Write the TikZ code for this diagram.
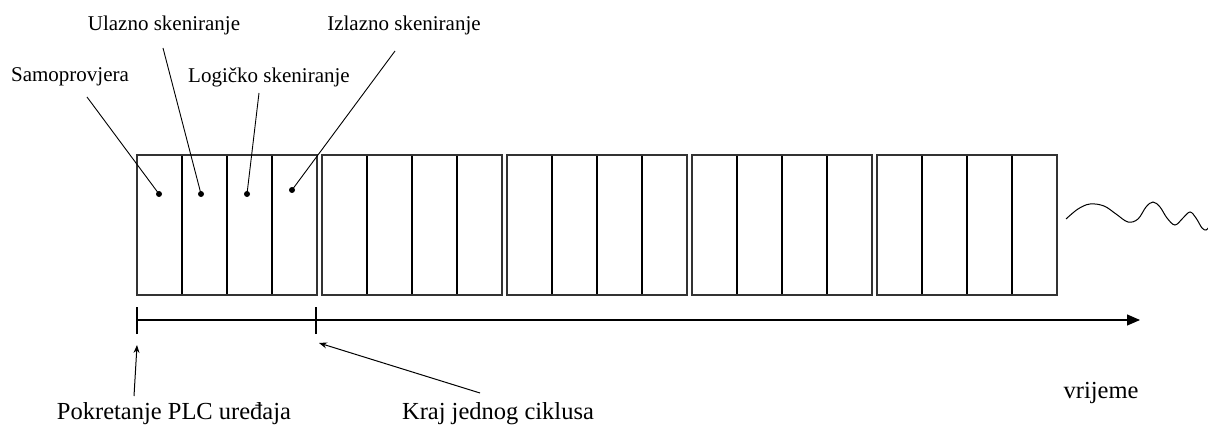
\documentclass[tikz,border=0pt]{standalone}
\usepackage{fontspec}
\setmainfont{Liberation Serif}
\usetikzlibrary{arrows.meta}
\begin{document}
\begin{tikzpicture}[x=1pt,y=-1pt,
 cell/.style={draw=none,minimum width=45pt,minimum height=140pt,inner sep=0,outer sep=0},
 blockframe/.style={draw=black!80,line width=1.3pt},
 divider/.style={black,line width=2.6pt},
 toplabel/.style={font=\fontsize{21}{24}\selectfont,inner sep=0},
 botlabel/.style={font=\fontsize{24.5}{28}\selectfont,inner sep=0},
 leader/.style={line width=0.9pt},
 dot/.style={circle,fill=black,inner sep=0,minimum size=6pt},
 pointer/.style={line width=1pt,-{Stealth[length=8pt,width=6pt]}},
 tick/.style={line width=1.2pt},
]
\useasboundingbox (0,0) rectangle (1208,433);
% cells
\foreach \b in {0,...,4}{
  \foreach \c in {0,...,3}{
    \pgfmathtruncatemacro{\n}{4*\b+\c+1}
    \node[cell] (c\n) at ({137+185*\b+45*\c+22.5},225) {};
  }
}
% dividers
\foreach \n in {1,2,3,5,6,7,9,10,11,13,14,15,17,18,19}{
  \draw[divider] (c\n.north east) -- (c\n.south east);
}
% frames
\foreach \f/\l in {1/4,5/8,9/12,13/16,17/20}{
  \draw[blockframe] (c\f.north west) rectangle (c\l.south east);
}
% wave
\draw[line width=1pt] plot[smooth,tension=0.6] coordinates {(1066,219) (1078,209) (1090,204) (1104,206) (1116,214) (1128,222) (1138,219) (1146,207) (1153,202) (1160,207) (1167,218) (1175,225) (1183,218) (1190,212) (1196,218) (1202,228) (1206,230) (1208,228)};
% dots
\node[dot] (d1) at (159,194) {};
\node[dot] (d2) at (201,194) {};
\node[dot] (d3) at (247,194) {};
\node[dot] (d4) at (292,190) {};
% top labels
\node[toplabel] (samo) at (70,77) {Samoprovjera};
\node[toplabel] (ulaz) at (164,25) {Ulazno skeniranje};
\node[toplabel] (logi) at (269,77) {Logičko skeniranje};
\node[toplabel] (izla) at (404,25) {Izlazno skeniranje};
\coordinate (s1) at (87,97);
\coordinate (s2) at (163,48);
\coordinate (s3) at (259,93);
\coordinate (s4) at (395,51);
\draw[leader] (s1) -- (d1.center);
\draw[leader] (s2) -- (d2.center);
\draw[leader] (s3) -- (d3.center);
\draw[leader] (s4) -- (d4.center);
% timeline
\coordinate (t0) at (137,320);
\coordinate (t1) at (316,320);
\coordinate (tend) at (1140,320);
\draw[line width=1.2pt,-{Triangle[length=13pt,width=11pt]}] (t0) -- (tend);
\draw[tick] ([yshift=-14pt]t0) -- ([yshift=13pt]t0);
\draw[tick] ([yshift=-14pt]t1) -- ([yshift=13pt]t1);
% bottom labels
\node[botlabel] (start) at (174,414) {Pokretanje PLC uređaja};
\node[botlabel] (kraj) at (498,414) {Kraj jednog ciklusa};
\node[botlabel] (vrij) at (1101,393) {vrijeme};
\coordinate (pa) at (134,396);
\coordinate (pb) at (137,345);
\coordinate (ka) at (480,393);
\coordinate (kb) at (319,343);
\draw[pointer] (pa) -- (pb);
\draw[pointer] (ka) -- (kb);
\end{tikzpicture}
\end{document}
